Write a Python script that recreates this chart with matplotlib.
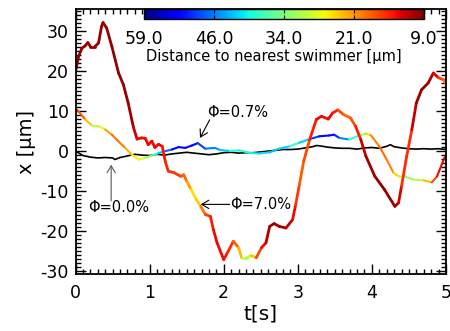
import matplotlib

matplotlib.use('Agg')

import numpy as np
import matplotlib.pyplot as plt
from matplotlib.collections import LineCollection
from matplotlib.colors import Normalize
from matplotlib.cm import ScalarMappable
from matplotlib.ticker import MultipleLocator

plt.rcParams['axes.unicode_minus'] = False  # IDL style plain hyphen minus

# Phi = 7.0 % swimmer: time [s], position [um], distance to nearest swimmer [um]
t_70 = [0, 0.04, 0.085, 0.13, 0.165, 0.2, 0.26, 0.31, 0.35, 0.37,
        0.42, 0.49, 0.58, 0.645, 0.71, 0.78, 0.83, 0.89, 0.94, 0.98,
        1.03, 1.07, 1.12, 1.17, 1.21, 1.25, 1.33, 1.42, 1.46, 1.50,
        1.56, 1.63, 1.69, 1.75, 1.82, 1.86, 1.91, 2.0, 2.06, 2.13,
        2.2, 2.24, 2.31, 2.37, 2.44, 2.51, 2.57, 2.62, 2.68, 2.75,
        2.84, 2.93, 2.97, 3.02, 3.08, 3.16, 3.25, 3.32, 3.41, 3.47,
        3.54, 3.62, 3.71, 3.78, 3.85, 3.92, 4.04, 4.17, 4.31, 4.36,
        4.40, 4.47, 4.54, 4.6, 4.67, 4.76, 4.83, 4.9, 4.97, 5.0]
x_70 = [19.9, 23.6, 25.7, 26.3, 27.1, 26.1, 26.1, 27.0, 31.1, 32.1,
        30.7, 26.1, 19.5, 16.6, 12.0, 6.0, 3.0, 3.3, 3.2, 1.6,
        2.5, 0.9, 1.7, 1.2, -2.5, -5.0, -5.4, -6.3, -5.9, -7.5,
        -9.6, -12.1, -13.8, -15.8, -16.3, -19.6, -22.9, -27.1, -25.0, -22.5,
        -24.1, -26.6, -26.6, -26.1, -26.6, -24.1, -22.9, -18.8, -18.1, -18.8,
        -19.2, -17.1, -13.5, -8.5, -2.5, 2.9, 7.9, 8.7, 8.0, 9.5,
        10.3, 9.1, 8.3, 6.2, 2.9, -1.3, -6.3, -9.6, -13.8, -12.9,
        -8.8, -1.3, 5.4, 12.0, 15.3, 17.0, 19.5, 18.3, 17.8, 16.6]
d_70 = [10, 10, 10, 10, 10, 10, 10, 10, 10, 10,
        10, 10, 10, 10, 10, 11, 14, 14, 14, 14,
        14, 14, 14, 14, 15, 16, 16, 17, 18, 20,
        24, 27, 22, 18, 16, 14, 14, 14, 15, 17,
        20, 27, 33, 28, 20, 15, 13, 10, 10, 10,
        11, 13, 15, 18, 19, 16, 14, 14, 14, 14,
        16, 19, 19, 17, 13, 11, 10, 10, 10, 12,
        14, 18, 14, 10, 10, 10, 12, 15, 19, 20]

# Phi = 0.7 % swimmer
t_07 = [0, 0.04, 0.13, 0.22, 0.31, 0.40, 0.49, 0.58, 0.67, 0.76,
        0.85, 0.94, 1.03, 1.12, 1.21, 1.3, 1.39, 1.48, 1.57, 1.65,
        1.75, 1.88, 1.95, 2.08, 2.21, 2.35, 2.48, 2.62, 2.75, 2.89,
        3.02, 3.16, 3.29, 3.42, 3.49, 3.56, 3.69, 3.83, 3.92, 3.99,
        4.10, 4.2, 4.29, 4.36, 4.45, 4.56, 4.70, 4.81, 4.88, 4.97, 5.0]
x_07 = [10.5, 9.9, 7.9, 6.4, 6.2, 5.4, 4.1, 2.4, 0.8, -0.9,
        -2.1, -1.7, -1.1, -0.5, 0.0, 0.4, 1.0, 0.8, 1.4, 2.0,
        0.6, 0.8, 0.3, 0.0, 0.2, -0.45, -0.6, -0.3, 0.6, 1.2,
        2.1, 3.0, 3.7, 3.9, 4.1, 3.3, 2.9, 3.9, 4.4, 3.9,
        1.2, -2.1, -5.4, -6.3, -6.4, -7.1, -7.3, -7.8, -6.3, -2.1, -1.0]
d_07 = [14, 16, 20, 28, 32, 24, 20, 19, 21, 25,
        27, 29, 35, 41, 45, 50, 55, 52, 53, 52,
        47, 46, 45, 41, 38, 41, 41, 42, 45, 40,
        37, 48, 52, 53, 52, 50, 42, 35, 28, 21,
        20, 19, 22, 27, 33, 33, 27, 20, 15, 13, 12]

# Phi = 0.0 % swimmer (alone, black)
t_00 = [0, 0.1, 0.2, 0.3, 0.4, 0.5, 0.53, 0.6, 0.7, 0.8,
        0.9, 1.0, 1.1, 1.2, 1.3, 1.4, 1.5, 1.6, 1.7, 1.8,
        1.9, 2.0, 2.1, 2.2, 2.3, 2.4, 2.5, 2.6, 2.7, 2.8,
        2.9, 3.0, 3.1, 3.2, 3.25, 3.3, 3.4, 3.5, 3.6, 3.7,
        3.8, 3.9, 4.0, 4.1, 4.2, 4.25, 4.3, 4.4, 4.5, 4.6,
        4.7, 4.8, 4.9, 5.0]
x_00 = [0.0, -1.1, -1.5, -1.7, -1.6, -1.7, -2.1, -1.6, -1.2, -0.8,
        -1.0, -1.1, -0.8, -1.0, -0.7, -0.5, -0.3, -0.5, -0.7, -0.9,
        -0.7, -0.4, -0.3, -0.5, -0.4, -0.4, -0.2, 0.0, 0.2, 0.4,
        0.4, 0.5, 0.8, 1.1, 1.4, 1.3, 1.0, 0.8, 0.7, 0.7,
        0.5, 0.8, 0.9, 0.7, 1.2, 1.6, 1.1, 0.8, 0.6, 0.5,
        0.6, 0.5, 0.6, 0.4]

cbar_ticks = [59, 46.5, 34, 21.5, 9]
cbar_labels = ['59.0', '46.0', '34.0', '21.0', '9.0']

norm = Normalize(vmin=9, vmax=59)
cmap = 'jet_r'


def add_curve(ax, t, x, d, lw):
  # colour each segment by the distance to the nearest swimmer
  pts = np.column_stack([t, x])
  segs = np.stack([pts[:-1], pts[1:]], axis=1)
  dd = np.asarray(d, dtype=float)
  lc = LineCollection(segs, cmap=cmap, norm=norm, linewidths=lw,
                      capstyle='round', joinstyle='round')
  lc.set_array(0.5 * (dd[:-1] + dd[1:]))
  ax.add_collection(lc)


fig = plt.figure(figsize=(4.5, 3.31), dpi=100)
ax = fig.add_axes([0.168, 0.172, 0.823, 0.801])

ax.plot(t_00, x_00, color='black', lw=1.2)
add_curve(ax, t_07, x_07, d_07, 1.5)
add_curve(ax, t_70, x_70, d_70, 2.0)

ax.set_xlim(0, 5)
ax.set_ylim(-30.7, 35.5)
ax.set_xticks(range(6))
ax.set_yticks([-30, -20, -10, 0, 10, 20, 30])
ax.xaxis.set_minor_locator(MultipleLocator(0.1))
ax.yaxis.set_minor_locator(MultipleLocator(1))
ax.tick_params(which='both', direction='in', top=True, right=True, width=1)
ax.tick_params(which='major', length=7, labelsize=12.5)
ax.tick_params(which='minor', length=3.5)
ax.tick_params(axis='x', pad=7)
ax.tick_params(axis='y', pad=5)
for s in ax.spines.values():
  s.set_linewidth(1.3)

ax.set_xlabel('t[s]', fontsize=14.5, labelpad=2)
ax.set_ylabel('x [μm]', fontsize=14, labelpad=3)

# annotations
arrow = dict(arrowstyle='->,head_length=0.5,head_width=0.3', color='black', lw=0.8,
             shrinkA=0, shrinkB=0)
ax.annotate('', xy=(1.68, 3.3), xytext=(1.81, 7.8), arrowprops=arrow)
ax.text(2.19, 9.6, 'Φ=0.7%', ha='center', va='center', fontsize=10.5)
ax.annotate('', xy=(0.48, -3.4), xytext=(0.48, -12.4),
            arrowprops=dict(arrow, color='0.35'))
ax.text(0.585, -14.1, 'Φ=0.0%', ha='center', va='center', fontsize=10.5)
ax.annotate('', xy=(1.69, -13.3), xytext=(2.08, -13.3), arrowprops=arrow)
ax.text(2.495, -13.3, 'Φ=7.0%', ha='center', va='center', fontsize=10.5)

# colour bar inside the plot at the top
cax = ax.inset_axes([0.185, 0.962, 0.756, 0.038])
cb = fig.colorbar(ScalarMappable(norm=norm, cmap=cmap), cax=cax, orientation='horizontal')
cb.set_ticks(cbar_ticks)
cb.set_ticklabels(cbar_labels)
cax.invert_xaxis()
cax.tick_params(direction='in', top=True, bottom=True, length=3, labelsize=12.5, pad=8)
cb.outline.set_linewidth(1)
ax.text(0.536, 0.819, 'Distance to nearest swimmer [μm]', transform=ax.transAxes,
        ha='center', va='center', fontsize=10.5)

fig.savefig('out.png', dpi=100)
